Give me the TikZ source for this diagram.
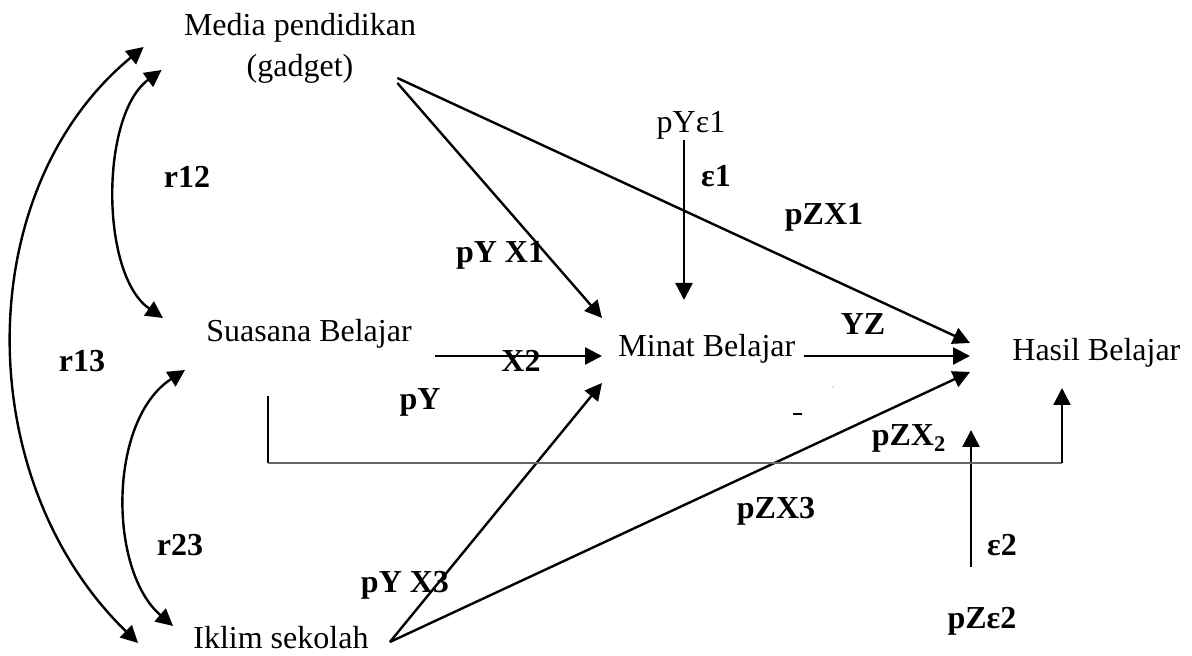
\documentclass[tikz,border=0pt]{standalone}
\usepackage{fontspec}
\setmainfont{Liberation Serif}
\usetikzlibrary{arrows.meta,calc}
\begin{document}
\begin{tikzpicture}[x=0.5pt,y=-0.5pt,
  txt/.style={font=\fontsize{16}{17.5}\selectfont, inner sep=0pt},
  btxt/.style={font=\fontsize{16}{17.5}\selectfont\bfseries, inner sep=0pt},
  >={Triangle[length=8.5pt,width=8.5pt]},
  arr/.style={line width=1.2pt, ->},
  darr/.style={line width=1.2pt, <->},
  baseline/.style={line width=0.9pt, black!60},
]
\useasboundingbox[fill=white] (0,0) rectangle (1192,656);

% main nodes
\node[txt, align=center, anchor=north] (media) at (300,13) {Media pendidikan\\[3pt](gadget)};
\node[txt, anchor=base west] (suasana) at (206,342) {Suasana Belajar};
\node[txt, anchor=base west] (minat) at (618,357) {Minat Belajar};
\node[txt, anchor=base west] (hasil) at (1012,361) {Hasil Belajar};
\node[txt, anchor=base west] (iklim) at (193,648) {Iklim sekolah};
\node[txt, anchor=base] (pye1) at (691,133) {pYε1};
\node[btxt, anchor=base] (pze2) at (982,628) {pZε2};

% labels
\node[btxt, anchor=base] (lr12) at (187,188) {r12};
\node[btxt, anchor=base] (lr13) at (82,372) {r13};
\node[btxt, anchor=base] (lr23) at (180,555) {r23};
\node[btxt, anchor=base] (le1) at (716,187) {ε1};
\node[btxt, anchor=base] (lpyx1) at (500,263) {pY X1};
\node[btxt, anchor=base] (lpzx1) at (824,225) {pZX1};
\node[btxt, anchor=base] (lx2) at (521,372) {X2};
\node[btxt, anchor=base] (lpy) at (420,410) {pY};
\node[btxt, anchor=base] (lyz) at (863,335) {YZ};
\node[btxt, anchor=base] (lpyx3) at (405,592) {pY X3};
\node[btxt, anchor=base] (lpzx3) at (776,519) {pZX3};
\node[btxt, anchor=base] (lpzx2) at (909,446) {pZX\textsubscript{2}};
\node[btxt, anchor=base] (le2) at (1002,555) {ε2};

\coordinate (e2tip) at (971,430);
\coordinate (bl) at (268,463);
\coordinate (br) at (1062,463);

% straight arrows
\draw[arr] ($(media.north east)+(-19,70)$) -- ($(minat.base west)+(-16,-39)$);
\draw[arr] ($(media.north east)+(-19,65)$) -- ($(hasil.base west)+(-42,-18)$);
\draw[arr] ($(suasana.base east)+(23,14)$) -- ($(minat.base west)+(-16,-1)$);
\draw[arr] ($(minat.base east)+(8,-1)$) -- ($(hasil.base west)+(-42,-5)$);
\draw[arr] ($(iklim.base east)+(21,-6)$) -- ($(minat.base west)+(-16,26)$);
\draw[arr] ($(iklim.base east)+(21,-6)$) -- ($(hasil.base west)+(-42,11)$);
\draw[arr] ($(pye1.base)+(-7,7)$) -- ($(minat.base west)+(66,-57)$);
\draw[arr] ($(pze2.base)+(-11,-61)$) -- (e2tip);

% bracket Suasana -> Hasil
\draw[line width=1pt] ($(suasana.base west)+(62,54)$) -- (bl);
\draw[baseline] (bl) -- (br);
\draw[arr] (br) -- ($(hasil.base west)+(50,27)$);

% correlation curves
\draw[darr] ($(media.north west)+(-40,34)$) .. controls (-30,190) and (-30,480) .. ($(iklim.base west)+(-55,-5)$);
\draw[darr] ($(media.north west)+(-22,57)$) .. controls (100,115) and (100,275) .. ($(suasana.base west)+(-43,-24)$);
\draw[darr] ($(suasana.base west)+(-21,28)$) .. controls (108,420) and (108,570) .. ($(iklim.base west)+(-20,-22)$);

% stray marks
\draw[line width=0.6pt] (793,414) -- (802,414);
\fill[black!50] (833,387) circle (0.7);
\end{tikzpicture}
\end{document}
